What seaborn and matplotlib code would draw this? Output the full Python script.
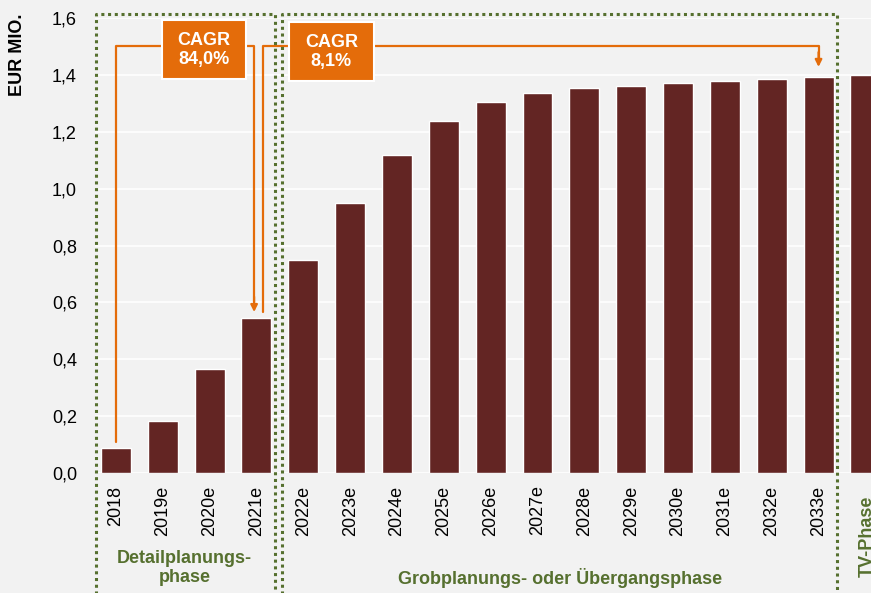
import matplotlib
matplotlib.use("Agg")
import matplotlib.pyplot as plt
from matplotlib.patches import Rectangle
import seaborn as sns
import pandas as pd

# Werte (EUR Mio.)
jahre = ["2018", "2019e", "2020e", "2021e", "2022e", "2023e", "2024e", "2025e",
         "2026e", "2027e", "2028e", "2029e", "2030e", "2031e", "2032e", "2033e", "TV"]
werte = [0.087, 0.183, 0.366, 0.545, 0.749, 0.949, 1.120, 1.238,
         1.305, 1.336, 1.354, 1.361, 1.371, 1.378, 1.385, 1.392, 1.400]
tick_labels = jahre[:-1] + [""]
cagr_texte = ["CAGR\n84,0%", "CAGR\n8,1%"]
phasen = ["Detailplanungs-\nphase", "Grobplanungs- oder Übergangsphase", "TV-Phase"]

bg = "#F2F2F2"
rot = "#632523"
orange = "#E46C0A"
gruen = "#56702F"

sns.set_theme(style="whitegrid", rc={
    "axes.facecolor": bg, "figure.facecolor": bg, "grid.color": "white",
    "grid.linewidth": 1.2, "axes.edgecolor": bg,
})
plt.rcParams["font.family"] = ["Liberation Sans", "DejaVu Sans"]

df = pd.DataFrame({"Jahr": jahre, "Wert": werte})

fig = plt.figure(figsize=(8.71, 5.93), dpi=100)
ax = fig.add_axes([0.109, 0.2024, 0.891, 0.7672])
sns.barplot(data=df, x="Jahr", y="Wert", color=rot, saturation=1, width=0.64,
            edgecolor="white", linewidth=1, ax=ax)

ax.set_xlim(-0.448, 16.12)
ax.set_ylim(0, 1.6)
ax.set_yticks([i * 0.2 for i in range(9)])
ax.set_yticklabels([f"{i * 0.2:.1f}".replace(".", ",") for i in range(9)], fontsize=13)
ax.set_xticks(range(len(jahre)))
ax.set_xticklabels(tick_labels, rotation=90, fontsize=13)
ax.tick_params(axis="y", length=0, pad=13, colors="black")
ax.tick_params(axis="x", length=0, pad=9, colors="black")
ax.grid(axis="x", visible=False)
ax.set_axisbelow(True)
ax.set_xlabel("")
ax.set_ylabel("")
for s in ax.spines.values():
    s.set_visible(False)

fig.text(0.020, 0.907, "EUR MIO.", rotation=90, ha="center", va="center",
         fontsize=13, fontweight="bold", color="black")

# gepunktete Phasen-Rahmen
for x0, x1 in [(-0.43, 3.39), (3.54, 15.39)]:
    ax.plot([x0, x0, x1, x1], [-0.6, 1.614, 1.614, -0.6], color=gruen, lw=2.2,
            linestyle=(0, (1, 1.2)), clip_on=False, zorder=5)

# CAGR-Pfeile
ax.plot([0, 0, 2.95, 2.95], [0.109, 1.5, 1.5, 0.60], color=orange, lw=1.6,
        clip_on=False, zorder=4)
ax.annotate("", xy=(2.95, 0.566), xytext=(2.95, 0.62),
            arrowprops=dict(arrowstyle="-|>", color=orange, lw=1.6,
                            mutation_scale=10, shrinkA=0, shrinkB=0), zorder=4)
ax.plot([3.14, 3.14, 15.0, 15.0], [0.566, 1.5, 1.5, 1.46], color=orange, lw=1.6,
        clip_on=False, zorder=4)
ax.annotate("", xy=(15.0, 1.428), xytext=(15.0, 1.48),
            arrowprops=dict(arrowstyle="-|>", color=orange, lw=1.6,
                            mutation_scale=10, shrinkA=0, shrinkB=0), zorder=4)

for (x0, x1, y0, y1), txt in zip([(0.98, 2.78, 1.384, 1.592), (3.69, 5.51, 1.377, 1.585)], cagr_texte):
    ax.add_patch(Rectangle((x0, y0), x1 - x0, y1 - y0, facecolor=orange,
                           edgecolor="white", lw=1.5, zorder=6, clip_on=False))
    ax.text((x0 + x1) / 2, (y0 + y1) / 2, txt, ha="center", va="center",
            color="white", fontsize=13, fontweight="bold", zorder=7,
            linespacing=1.2)

ax.text(1.47, -0.334, phasen[0], ha="center", va="center", fontsize=13,
        fontweight="bold", color=gruen, linespacing=1.1)
ax.text(9.48, -0.37, phasen[1], ha="center", va="center", fontsize=13,
        fontweight="bold", color=gruen)
ax.text(16.04, -0.366, phasen[2], ha="center", va="bottom", rotation=90,
        fontsize=13, fontweight="bold", color=gruen)

fig.savefig("out.png", dpi=100, facecolor=bg)
